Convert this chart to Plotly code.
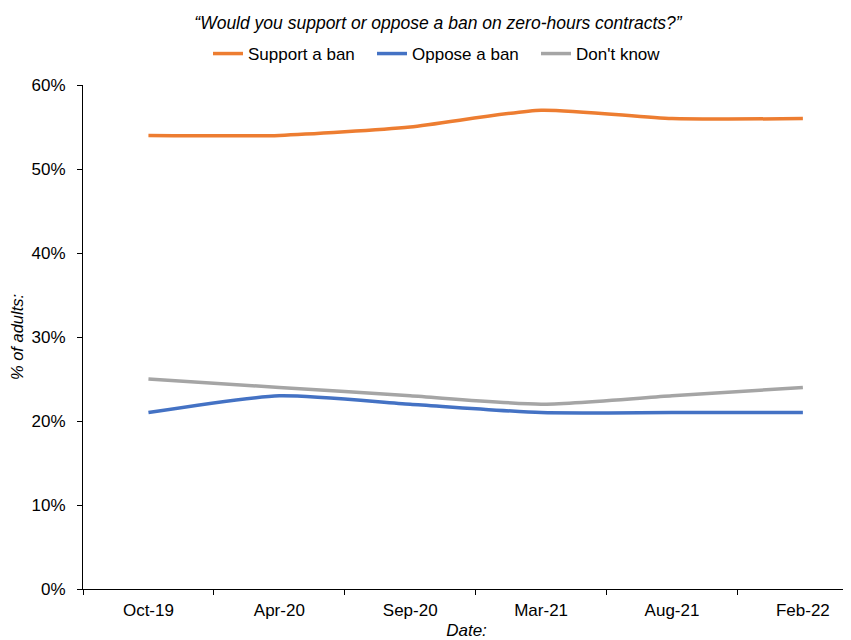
import plotly.graph_objects as go

dates = ["Oct-19", "Apr-20", "Sep-20", "Mar-21", "Aug-21", "Feb-22"]
support = [0.54, 0.54, 0.55, 0.57, 0.56, 0.56]
oppose = [0.21, 0.23, 0.22, 0.21, 0.21, 0.21]
dont_know = [0.25, 0.24, 0.23, 0.22, 0.23, 0.24]

series = [
    ("Support a ban", support, "#ED7D31"),
    ("Oppose a ban", oppose, "#4472C4"),
    ("Don't know", dont_know, "#A5A5A5"),
]

fig = go.Figure()
for name, vals, color in series:
    fig.add_trace(go.Scatter(
        x=dates, y=vals, name=name, mode="lines",
        line=dict(color=color, width=3.5, shape="spline", smoothing=0.6),
    ))

# the page body has an 8px margin, so the figure is drawn 8px in from the top-left
W, H = 843, 632
font = "Liberation Sans, Arial, sans-serif"
fig.update_layout(
    width=W, height=H,
    margin=dict(l=75, r=1, t=77, b=51),
    paper_bgcolor="white", plot_bgcolor="white",
    font=dict(family=font, size=17, color="#000000"),
    title=dict(
        text="<i>\u201cWould you support or oppose a ban on zero-hours contracts?\u201d</i>",
        xref="container", x=(438 - 8) / W, xanchor="center",
        yref="container", y=1 - 15 / H, yanchor="middle",
        font=dict(size=17.5, family=font, color="#000000"),
    ),
    legend=dict(
        orientation="h", xref="container", x=200 / W, xanchor="left",
        yref="container", y=1 - 46 / H, yanchor="middle",
        font=dict(size=17, family=font), itemwidth=30, entrywidth=119,
        tracegroupgap=0, bgcolor="rgba(0,0,0,0)",
    ),
    showlegend=True,
)

fig.update_xaxes(
    type="category", range=[-0.5, 5.36], automargin=False,
    showline=True, linecolor="#000000", linewidth=1,
    ticks="outside", ticklen=5, tickcolor="#000000", tickson="boundaries",
    ticklabelstandoff=6,
    showgrid=False, zeroline=False,
    title=dict(text="<i>Date:</i>", standoff=5, font=dict(size=17)),
    tickfont=dict(size=17),
)
fig.update_yaxes(
    range=[0, 0.6], dtick=0.1, tickformat=".0%", automargin=False,
    showline=True, linecolor="#000000", linewidth=1,
    ticks="outside", ticklen=5, tickcolor="#000000",
    ticklabelstandoff=8,
    showgrid=False, zeroline=False,
    title=dict(text="<i>% of adults:</i>", standoff=6, font=dict(size=16.5)),
    tickfont=dict(size=17),
)

fig.write_html("out.html")
